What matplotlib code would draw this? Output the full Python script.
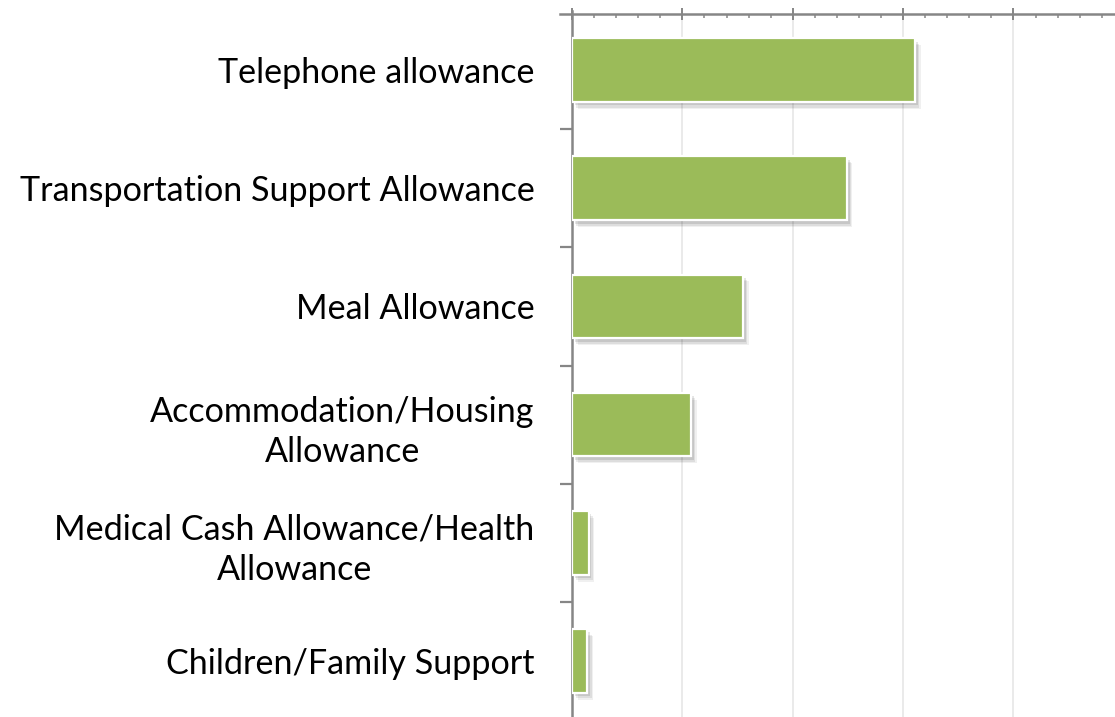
import matplotlib
matplotlib.use("Agg")
import matplotlib.pyplot as plt
import matplotlib.patheffects as pe
from matplotlib.ticker import MultipleLocator, FixedLocator, NullFormatter

categories = [
    "Telephone allowance",
    "Transportation Support Allowance",
    "Meal Allowance",
    "Accommodation/Housing\nAllowance",
    "Medical Cash Allowance/Health\nAllowance",
    "Children/Family Support",
]
values = [31.1, 24.9, 15.5, 10.8, 1.5, 1.4]

BAR_COLOR = "#9BBB59"
AXIS_COLOR = "#868686"
GRID_COLOR = "#E8E8E8"

plt.rcParams["font.family"] = ["Lato", "DejaVu Sans"]

fig = plt.figure(figsize=(11.15, 7.17), dpi=100)
ax = fig.add_axes([572 / 1115, -3 / 717, 1 - 572 / 1115, 709 / 717])

ypos = list(range(len(categories)))
bars = ax.barh(ypos, values, height=0.54, color=BAR_COLOR,
               edgecolor="white", linewidth=1.6, zorder=3)
for b in bars:
    b.set_path_effects([
        pe.SimplePatchShadow(offset=(4, -5), shadow_rgbFace="#000000", alpha=0.06),
        pe.SimplePatchShadow(offset=(3, -4), shadow_rgbFace="#000000", alpha=0.08),
        pe.SimplePatchShadow(offset=(2, -2.5), shadow_rgbFace="#000000", alpha=0.10),
        pe.Normal(),
    ])

ax.set_ylim(len(categories) - 0.5, -0.5)
ax.set_xlim(0, 49.2)

# value axis on top with crossing major ticks and small minor ticks
ax.xaxis.tick_top()
ax.xaxis.set_major_locator(MultipleLocator(10))
ax.xaxis.set_minor_locator(MultipleLocator(2))
ax.xaxis.set_major_formatter(NullFormatter())
ax.tick_params(axis="x", which="major", direction="inout", length=9,
               width=1.4, color=AXIS_COLOR, top=True, bottom=False)
ax.tick_params(axis="x", which="minor", direction="in", length=3,
               width=1.1, color=AXIS_COLOR, top=True, bottom=False)
ax.grid(axis="x", which="major", color=GRID_COLOR, linewidth=1.3, zorder=0)

# category axis: labels at centers, tick marks at boundaries
ax.set_yticks(ypos)
ax.set_yticklabels(categories, fontsize=24.6, multialignment="center",
                   linespacing=1.32)
ax.tick_params(axis="y", which="major", length=0, pad=27)
ax.yaxis.set_minor_locator(FixedLocator([i + 0.5 for i in ypos[:-1]]))
ax.tick_params(axis="y", which="minor", direction="out", length=8.5,
               width=1.6, color=AXIS_COLOR)

for side in ("right", "bottom"):
    ax.spines[side].set_visible(False)
for side in ("left", "top"):
    ax.spines[side].set_color(AXIS_COLOR)
    ax.spines[side].set_linewidth(1.8)
ax.spines["top"].set_position(("outward", -2))
ax.spines["top"].set_bounds(-1.1, 49.2)
ax.set_axisbelow(True)

fig.savefig("out.png", dpi=100)
